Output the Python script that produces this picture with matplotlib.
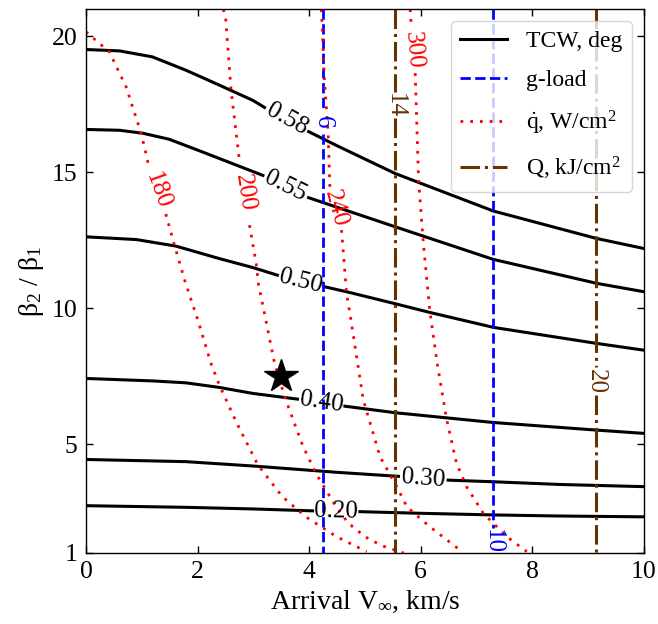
import numpy as np
import matplotlib
matplotlib.use('Agg')
import matplotlib.pyplot as plt

plt.rcParams['font.family'] = 'Liberation Serif'
plt.rcParams['mathtext.fontset'] = 'custom'
plt.rcParams['mathtext.rm'] = 'Liberation Serif'
plt.rcParams['mathtext.it'] = 'Liberation Serif:italic'

nan = np.nan

# contour lines; nan = gap where the inline label sits
# TCW, deg
tcw_labels = ['0.58', '0.55', '0.50', '0.40', '0.30', '0.20']
tcw_x = [
    [0, 0.6, 1.19, 1.79, 2.39, 2.99, 3.20, nan, 3.99, 4.48, 5.54, 7.30, 9.15, 10],
    [0, 0.6, 1.02, 1.49, 2.09, 2.78, 3.17, nan, 3.99, 4.48, 5.54, 7.30, 9.15, 10],
    [0, 0.9, 1.61, 2.39, 2.99, 3.43, nan, 4.28, 4.67, 5.54, 6.16, 7.30, 9.15, 10],
    [0, 1.19, 1.79, 2.39, 2.99, 3.79, nan, 4.64, 5.54, 7.30, 9.15, 10],
    [0, 1.79, 2.99, 4.48, 5.6, nan, 6.49, 7.30, 8.5, 10],
    [0, 1.79, 3.0, 4.06, nan, 4.91, 6.0, 7.30, 8.5, 10],
]
tcw_y = [
    [19.52, 19.47, 19.25, 18.76, 18.21, 17.65, 17.39, nan, 16.5, 16.0, 14.96, 13.58, 12.57, 12.2],
    [16.58, 16.55, 16.44, 16.22, 15.75, 15.2, 14.89, nan, 14.07, 13.73, 13.0, 11.8, 10.92, 10.61],
    [12.63, 12.53, 12.29, 11.83, 11.5, 11.22, nan, 10.79, 10.61, 10.17, 9.85, 9.3, 8.71, 8.46],
    [7.42, 7.33, 7.26, 7.09, 6.87, 6.66, nan, 6.40, 6.16, 5.80, 5.52, 5.40],
    [4.44, 4.36, 4.20, 3.97, 3.82, nan, 3.68, 3.62, 3.52, 3.44],
    [2.74, 2.68, 2.62, 2.55, nan, 2.52, 2.46, 2.40, 2.36, 2.33],
]

# g-load
g_labels = ['6', '10']
g_x = [[4.25, 4.25, nan, 4.25, 4.25], [7.30, 7.30]]
g_y = [[21, 17.3, nan, 16.4, 1], [21, 1.92]]

# heat rate q, W/cm2
q_labels = ['180', '200', '240', '300']
q_x = [
    [0, 0.42, 0.72, 0.99, 1.13, nan, 1.43, 1.58, 1.79, 2.0, 2.24, 2.39, 2.69, 3.08, 3.52, 3.94, 4.49, 5.03],
    [2.46, 2.50, 2.60, 2.75, nan, 2.93, 3.05, 3.09, 3.2, 3.38, 3.58, 3.88, 4.12, 4.30, 4.48, 4.7, 5.0, 5.3, 5.69],
    [4.22, 4.27, 4.34, 4.37, nan, 4.58, 4.67, 4.73, 4.97, 5.27, 5.57, 5.75, 6.16, 6.70],
    [5.81, 5.83, nan, 5.9, 5.96, 6.05, 6.16, 6.3, 6.46, 6.64, 6.82, 7.12, 7.54, 7.90],
]
q_y = [
    [20.17, 19.43, 18.14, 16.43, 15.2, nan, 13.47, 12.36, 10.89, 9.6, 7.97, 7.18, 5.83, 4.24, 3.07, 2.33, 1.6, 1.05],
    [21, 20.74, 18.02, 15.43, nan, 13.06, 11.65, 10.89, 9.8, 7.97, 6.63, 4.97, 3.93, 3.32, 2.7, 2.1, 1.6, 1.27, 1.0],
    [21, 18.5, 16.44, 14.46, nan, 12.88, 10.54, 9.81, 6.63, 4.54, 3.44, 2.70, 1.97, 1.11],
    [21, 20.35, nan, 18.65, 14.71, 12.3, 9.93, 7.9, 5.95, 4.30, 3.44, 2.46, 1.6, 1.05],
]

# heat load Q, kJ/cm2
Q_labels = ['14', '20']
Q_x = [[5.54, 5.54, nan, 5.54, 5.54], [9.14, 9.14, nan, 9.14, 9.14]]
Q_y = [[21, 17.95, nan, 17.0, 1], [21, 7.85, nan, 6.8, 1]]

# selected design point
star_x = [3.5]
star_y = [7.5]


def gap_label(ax, xs, ys, text, color):
    i = [k for k, v in enumerate(xs) if np.isnan(v)][0]
    p0 = ax.transData.transform((xs[i - 1], ys[i - 1]))
    p1 = ax.transData.transform((xs[i + 1], ys[i + 1]))
    ang = np.degrees(np.arctan2(p1[1] - p0[1], p1[0] - p0[0]))
    if ang >= 90:
        ang -= 180
    if ang < -90:
        ang += 180
    ax.text((xs[i - 1] + xs[i + 1]) / 2, (ys[i - 1] + ys[i + 1]) / 2, text,
            color=color, fontsize=18, rotation=ang, rotation_mode='anchor',
            ha='center', va='center')


fig = plt.figure(figsize=(6.58, 6.24), dpi=100)
ax = fig.add_axes([0.1307, 0.1138, 0.848, 0.8713])
ax.set_xlim(0, 10)
ax.set_ylim(1, 21)

brown = '#663300'

for k in range(len(tcw_x)):
    ax.plot(tcw_x[k], tcw_y[k], 'k-', lw=2.2, label='TCW, deg' if k == 0 else None)
    gap_label(ax, tcw_x[k], tcw_y[k], tcw_labels[k], 'k')

for k in range(len(g_x)):
    ax.plot(g_x[k], g_y[k], color='blue', ls='--', lw=2, label='g-load' if k == 0 else None)
gap_label(ax, g_x[0], g_y[0], g_labels[0], 'blue')
ax.text(g_x[1][-1], 1.42, g_labels[1], color='blue', fontsize=18, rotation=-90,
        rotation_mode='anchor', ha='center', va='center')

for k in range(len(q_x)):
    ax.plot(q_x[k], q_y[k], color='red', ls=(0, (1, 2.5)), lw=2,
            label=r'$\dot{\mathrm{q}}$, W/cm$^2$' if k == 0 else None)
    gap_label(ax, q_x[k], q_y[k], q_labels[k], 'red')

for k in range(len(Q_x)):
    ax.plot(Q_x[k], Q_y[k], color=brown, ls='-.', lw=2.2,
            label='Q, kJ/cm$^2$' if k == 0 else None)
    gap_label(ax, Q_x[k], Q_y[k], Q_labels[k], brown)

ax.plot(star_x, star_y, 'k*', ms=25)

ax.set_xticks([0, 2, 4, 6, 8, 10])
ax.set_yticks([1, 5, 10, 15, 20])
ax.tick_params(direction='in', top=True, right=True, length=5, width=1,
               labelsize=18.5, pad=6)
for s in ax.spines.values():
    s.set_linewidth(1.0)

ax.set_xlabel(r'Arrival V$_{\infty}$, km/s', fontsize=20, labelpad=4)
ax.set_ylabel(r'$\mathrm{\beta_2}$ / $\mathrm{\beta_1}$', fontsize=20, labelpad=4)

ax.legend(loc='upper right', fontsize=17, labelspacing=0.75)

fig.savefig('out.png', dpi=100)
